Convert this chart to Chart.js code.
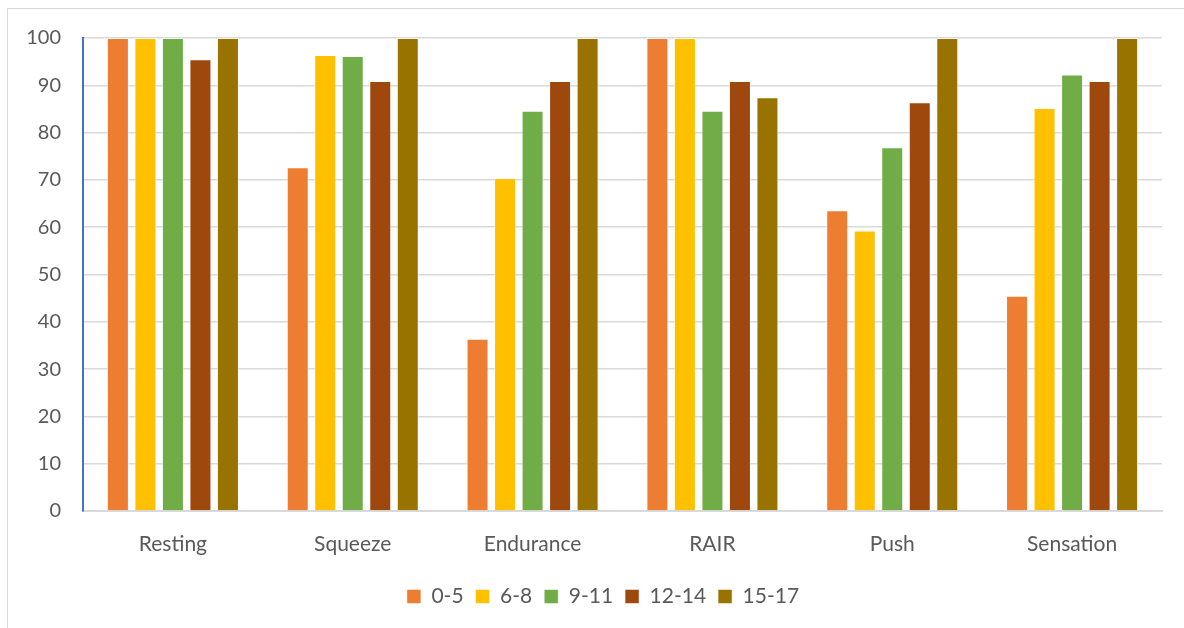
<!DOCTYPE html>
<html>
<head>
<meta charset="utf-8">
<script src="https://cdn.jsdelivr.net/npm/chart.js@4.4.0/dist/chart.umd.min.js"></script>
<style>
  body { margin: 0; background: #fff; }
  #wrap { position: relative; width: 1184px; height: 628px; overflow: hidden; }
  #frame { position: absolute; left: 7px; top: 8px; width: 1200px; height: 640px; border: 1px solid #d9d9d9; box-sizing: border-box; }
  canvas { position: absolute; left: 0; top: 0; }
</style>
</head>
<body>
<div id="wrap">
  <div id="frame"></div>
  <canvas id="chart" width="1184" height="628"></canvas>
</div>
<script>
var categories = ['Resting', 'Squeeze', 'Endurance', 'RAIR', 'Push', 'Sensation'];
var seriesNames = ['0-5', '6-8', '9-11', '12-14', '15-17'];
var age0to5 = [100, 72.7, 36.4, 100, 63.6, 45.5];
var age6to8 = [100, 96.4, 70.4, 100, 59.3, 85.2];
var age9to11 = [100, 96.2, 84.6, 84.6, 76.9, 92.3];
var age12to14 = [95.5, 90.9, 90.9, 90.9, 86.4, 90.9];
var age15to17 = [100, 100, 100, 87.5, 100, 100];
var colors = ['#ED7D31', '#FFC000', '#70AD47', '#9E480E', '#997300'];

var allSeries = [age0to5, age6to8, age9to11, age12to14, age15to17];
var datasets = [];
for (var i = 0; i < allSeries.length; i++) {
    datasets.push({
        label: seriesNames[i],
        data: allSeries[i],
        backgroundColor: colors[i],
        borderColor: 'rgba(255,255,255,0.5)',
        borderWidth: 1,
        categoryPercentage: 0.765,
        barPercentage: 0.8
    });
}

var fontFamily = "Lato, 'Open Sans', sans-serif";
var textColor = '#595959';

// nudge the legend right so it sits under the plot like the original
var legendShift = {
    id: 'legendShift',
    afterLayout: function(chart) {
        chart.legend.left += 18;
        chart.legend.right += 18;
    }
};

var ctx = document.getElementById('chart').getContext('2d');
new Chart(ctx, {
    type: 'bar',
    data: { labels: categories, datasets: datasets },
    plugins: [legendShift],
    options: {
        responsive: false,
        animation: false,
        layout: { padding: { left: 8, right: 22, top: 38, bottom: 11 } },
        scales: {
            x: {
                grid: { display: false },
                border: { color: '#d9d9d9', width: 2 },
                ticks: { color: textColor, font: { family: fontFamily, size: 21 }, padding: 13 },
                afterFit: function(scale) { scale.height = 63; }
            },
            y: {
                min: 0,
                max: 100,
                ticks: { stepSize: 10, color: textColor, font: { family: fontFamily, size: 20 }, padding: 22 },
                grid: { color: '#d9d9d9', lineWidth: 1.5, drawTicks: false },
                border: { color: '#4472C4', width: 2 },
                afterFit: function(scale) { scale.width = 75; }
            }
        },
        plugins: {
            legend: {
                position: 'bottom',
                labels: {
                    color: textColor,
                    font: { family: fontFamily, size: 21 },
                    boxWidth: 14,
                    boxHeight: 14,
                    padding: 12
                }
            },
            tooltip: { enabled: false }
        }
    }
});
</script>
</body>
</html>
